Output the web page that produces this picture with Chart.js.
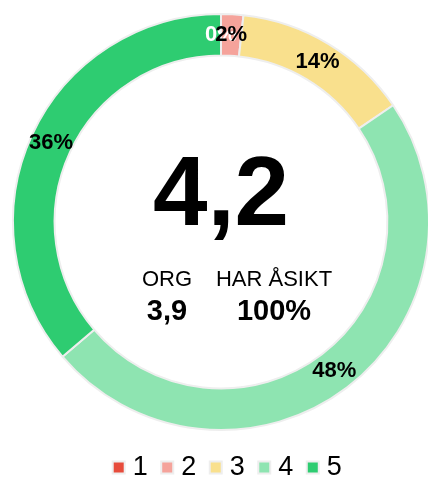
<!DOCTYPE html>
<html>
<head>
<meta charset="utf-8">
<script src="https://cdn.jsdelivr.net/npm/chart.js@4"></script>
<style>
html,body{margin:0;padding:0;overflow:hidden;background:#fff;width:428px;height:478px}
#wrap{width:448px;height:491px;position:relative}
</style>
</head>
<body>
<div id="wrap"><canvas id="chart"></canvas></div>
<script>
// answers per grade (1..5)
const labels = ['1','2','3','4','5'];
const counts = [0,1,8,28,21];
const colors = ['#e74c3c','#f5a39b','#f9e08d','#8ee4b1','#2ecc71'];
const labelColors = ['#fff','#000','#000','#000','#000'];

const avgText = '4,2';
const orgLabel = 'ORG', orgValue = '3,9';
const shareLabel = 'HAR ÅSIKT', shareValue = '100%';

const FONT = '"Liberation Sans", Arial, sans-serif';
Chart.defaults.font.family = FONT;

// percent labels in the middle of each arc
const pctLabels = {
  id:'pctLabels',
  afterDatasetsDraw(chart){
    const ctx = chart.ctx;
    const meta = chart.getDatasetMeta(0);
    const total = counts.reduce((a,b)=>a+b,0);
    ctx.save();
    ctx.font = 'bold 22px '+FONT;
    ctx.textAlign = 'center';
    ctx.textBaseline = 'middle';
    meta.data.forEach((arc,i)=>{
      const p = arc.getCenterPoint();
      ctx.fillStyle = labelColors[i];
      ctx.fillText(Math.round(counts[i]/total*100)+'%', p.x, p.y);
    });
    ctx.restore();
  }
};

// big number + org / share in the hole
const centerText = {
  id:'centerText',
  afterDraw(chart){
    const ctx = chart.ctx;
    const arc = chart.getDatasetMeta(0).data[0];
    const cx = arc.x, cy = arc.y;
    ctx.save();
    ctx.fillStyle = '#000';
    ctx.textAlign = 'center';
    ctx.textBaseline = 'alphabetic';
    ctx.font = 'bold 98px '+FONT;
    ctx.fillText(avgText, cx, cy+3);
    ctx.font = '22px '+FONT;
    ctx.fillText(orgLabel, cx-54, cy+64);
    ctx.fillText(shareLabel, cx+53, cy+64);
    ctx.font = 'bold 29px '+FONT;
    ctx.fillText(orgValue, cx-54, cy+98);
    ctx.fillText(shareValue, cx+53, cy+98);
    ctx.restore();
  }
};

new Chart(document.getElementById('chart'), {
  type:'doughnut',
  data:{
    labels: labels,
    datasets:[{
      data: counts,
      backgroundColor: colors,
      borderColor: '#eeeeee',
      borderWidth: 2,
      hoverOffset: 0
    }]
  },
  options:{
    responsive:true,
    maintainAspectRatio:false,
    animation:false,
    cutout:'80%',
    layout:{padding:{left:12,right:0,top:9,bottom:0}},
    plugins:{
      tooltip:{enabled:false},
      // empty strip on the right so the legend sits a bit right of the ring
      subtitle:{display:true, position:'right', text:'', padding:0, font:{size:12, lineHeight:'18px'}},
      legend:{
        position:'bottom',
        labels:{usePointStyle:true, pointStyle:'rect', boxWidth:1, boxHeight:12, padding:19, color:'#000', font:{size:27}}
      }
    }
  },
  plugins:[pctLabels, centerText]
});
</script>
</body>
</html>
